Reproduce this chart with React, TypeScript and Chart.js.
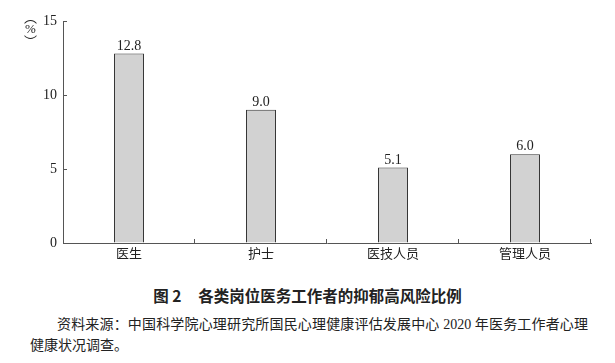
import React, { useEffect, useRef } from 'react';
import { Chart, registerables } from 'chart.js';

Chart.register(...registerables);

const categories = ['医生', '护士', '医技人员', '管理人员'];
const values = [12.8, 9.0, 5.1, 6.0];
const valueLabels = ['12.8', '9.0', '5.1', '6.0'];
const yTicks = [0, 5, 10, 15];
const titleNumber = '图 2';
const titleText = '各类岗位医务工作者的抑郁高风险比例';
const sourceLine1 = '资料来源：中国科学院心理研究所国民心理健康评估发展中心 2020 年医务工作者心理';
const sourceLine2 = '健康状况调查。';

const SERIF = '"Liberation Serif", "Noto Sans CJK SC", serif';
const TEXT = '#222';
const AXIS = '#555';

const decorPlugin = {
  id: 'decor',
  afterDraw(chart: any) {
    const ctx = chart.ctx;
    const xs = chart.scales.x;
    const ys = chart.scales.y;
    ctx.save();
    ctx.strokeStyle = AXIS;
    ctx.lineWidth = 1;
    // y ticks pointing inward
    yTicks.forEach((v) => {
      if (v === 0) return;
      const py = Math.round(ys.getPixelForValue(v)) + 0.5;
      ctx.beginPath();
      ctx.moveTo(ys.right, py);
      ctx.lineTo(ys.right + 4, py);
      ctx.stroke();
    });
    // x ticks at category boundaries pointing up
    const n = categories.length;
    for (let i = 1; i <= n; i++) {
      const px = Math.round(xs.left + (i * xs.width) / n) - 0.5;
      ctx.beginPath();
      ctx.moveTo(px, xs.top);
      ctx.lineTo(px, xs.top - 4);
      ctx.stroke();
    }
    // value labels
    ctx.fillStyle = TEXT;
    ctx.font = `14px ${SERIF}`;
    ctx.textAlign = 'center';
    ctx.textBaseline = 'alphabetic';
    const meta = chart.getDatasetMeta(0);
    meta.data.forEach((bar: any, i: number) => {
      ctx.fillText(valueLabels[i], bar.x, bar.y - 4);
    });
    // unit label (%)
    ctx.font = `13px "Noto Sans CJK SC"`;
    ctx.textBaseline = 'middle';
    ctx.fillText('︵', 30.5, 17);
    ctx.fillText('︶', 30.5, 41);
    ctx.font = `13px ${SERIF}`;
    ctx.fillText('%', 30.5, 30);
    ctx.restore();
  },
};

export default function App() {
  const ref = useRef<HTMLCanvasElement | null>(null);
  useEffect(() => {
    if (!ref.current) return;
    const chart = new Chart(ref.current, {
      type: 'bar',
      data: {
        labels: categories,
        datasets: [
          {
            data: values,
            backgroundColor: '#d2d2d2',
            borderColor: '#333',
            borderWidth: 1,
            categoryPercentage: 1,
            barPercentage: 0.227,
          },
        ],
      },
      options: {
        animation: false,
        responsive: false,
        maintainAspectRatio: false,
        layout: { padding: { top: 21, right: 24, left: 0, bottom: 0 } },
        plugins: { legend: { display: false }, tooltip: { enabled: false }, title: { display: false } },
        scales: {
          x: {
            grid: { drawOnChartArea: false, drawTicks: false },
            border: { display: true, color: AXIS, width: 1 },
            ticks: { font: { family: SERIF, size: 13 }, color: TEXT, padding: 4 },
            afterFit: (s: any) => {
              s.height = 27;
            },
          },
          y: {
            min: 0,
            max: 15,
            grid: { drawOnChartArea: false, drawTicks: false },
            border: { display: true, color: AXIS, width: 1 },
            ticks: {
              stepSize: 5,
              font: { family: SERIF, size: 14 },
              color: TEXT,
              padding: 6,
            },
            afterFit: (s: any) => {
              s.width = 63;
            },
          },
        },
      },
      plugins: [decorPlugin],
    });
    return () => chart.destroy();
  }, []);

  return (
    <div style={{ position: 'absolute', left: 0, top: 0, width: 615, height: 363, background: '#fff', fontFamily: SERIF, color: TEXT }}>
      <canvas ref={ref} width={615} height={270} style={{ position: 'absolute', left: 0, top: 0, width: 615, height: 270 }} />
      <div style={{ position: 'absolute', left: 0, top: 284, width: 615, textAlign: 'center', fontSize: 15.5, lineHeight: '22px', fontWeight: 'bold', fontFamily: '"Noto Sans CJK SC", sans-serif' }}>
        <span>{titleNumber}</span>
        <span style={{ marginLeft: '1.1em' }}>{titleText}</span>
      </div>
      <div style={{ position: 'absolute', left: 57, top: 314, width: 531, fontSize: 14, lineHeight: '22px', textAlign: 'justify', textAlignLast: 'justify', whiteSpace: 'nowrap' } as any}>
        {sourceLine1}
      </div>
      <div style={{ position: 'absolute', left: 30, top: 335, fontSize: 14, lineHeight: '22px', whiteSpace: 'nowrap' }}>
        {sourceLine2}
      </div>
    </div>
  );
}
